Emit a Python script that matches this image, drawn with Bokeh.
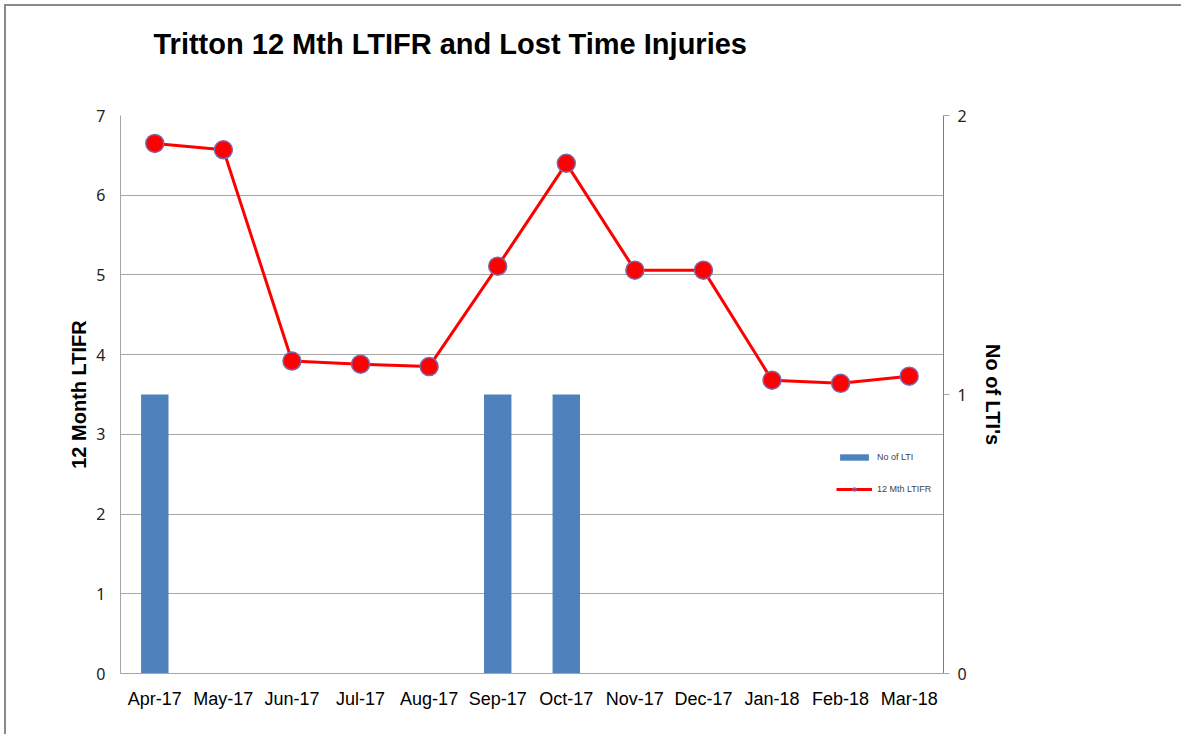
from bokeh.plotting import figure
from bokeh.models import (ColumnDataSource, LinearAxis, Range1d, Legend, LegendItem,
                          FixedTicker, Title)
from bokeh.embed import file_html
from bokeh.resources import INLINE

months = ["Apr-17", "May-17", "Jun-17", "Jul-17", "Aug-17", "Sep-17",
          "Oct-17", "Nov-17", "Dec-17", "Jan-18", "Feb-18", "Mar-18"]
ltifr = [6.65, 6.57, 3.92, 3.88, 3.85, 5.11, 6.40, 5.06, 5.06, 3.68, 3.64, 3.73]
no_of_lti = [1, 0, 0, 0, 0, 1, 1, 0, 0, 0, 0, 0]

FONT = "Liberation Sans"

src = ColumnDataSource(dict(m=months, ltifr=ltifr, lti=no_of_lti))

p = figure(x_range=months, y_range=Range1d(0, 7), frame_width=823, frame_height=558,
           output_backend="svg", toolbar_location=None,
           min_border_left=114, min_border_right=238, min_border_top=108,
           min_border_bottom=61)
p.outline_line_color = None
p.background_fill_color = "white"
p.border_fill_color = "white"
p.styles = {"border-left": "2px solid #8a8a8a", "border-top": "2px solid #8a8a8a",
            "margin-left": "4px", "margin-top": "4px"}

p.extra_y_ranges = {"lti": Range1d(0, 2)}

bars = p.vbar(x="m", top="lti", width=0.4, source=src, y_range_name="lti",
              fill_color="#4F81BD", line_color=None)
line = p.line(x="m", y="ltifr", source=src, line_color="#FF0000", line_width=3)
pts = p.scatter(x="m", y="ltifr", source=src, size=18, fill_color="#FF0000",
                line_color="#7B68B0", line_width=1.5)

# title (spacer panel first, next to the frame, then the real title)
spacer = Title(text=" ", text_font=FONT, text_font_size="10px", standoff=24)
p.add_layout(spacer, "above")
t = Title(text="Tritton 12 Mth LTIFR and Lost Time Injuries", text_font=FONT,
          text_font_size="29px", text_font_style="bold", text_color="#000000",
          align="left", offset=33, standoff=38)
p.add_layout(t, "above")
p.title.visible = False

# left axis
ya = p.yaxis[0]
ya.ticker = FixedTicker(ticks=[0, 1, 2, 3, 4, 5, 6, 7])
ya.axis_label = "12 Month LTIFR"
ya.axis_label_text_font = FONT
ya.axis_label_text_font_size = "20px"
ya.axis_label_text_font_style = "bold"
ya.axis_label_text_color = "#000000"
ya.axis_label_standoff = 3
ya.major_label_text_font = "Noto Sans"
ya.major_label_text_font_size = "16px"
ya.major_label_text_color = "#222222"
ya.major_tick_line_color = None
ya.minor_tick_line_color = None
ya.axis_line_color = "#A6A6A6"
ya.major_label_standoff = 9

# right axis
ra = LinearAxis(y_range_name="lti", ticker=FixedTicker(ticks=[0, 1, 2]))
ra.axis_label = "No of LTI's"
ra.axis_label_text_font = FONT
ra.axis_label_text_font_size = "20px"
ra.axis_label_text_font_style = "bold"
ra.axis_label_text_color = "#000000"
ra.axis_label_standoff = 12
ra.major_label_text_font = "Noto Sans"
ra.major_label_text_font_size = "16px"
ra.major_label_text_color = "#222222"
ra.major_tick_line_color = "#A6A6A6"
ra.major_tick_out = 6
ra.major_tick_in = 0
ra.minor_tick_line_color = None
ra.axis_line_color = "#7F7F7F"
ra.major_label_standoff = 8
p.add_layout(ra, "right")

# x axis
xa = p.xaxis[0]
xa.major_label_text_font = FONT
xa.major_label_text_font_size = "18px"
xa.major_label_text_color = "#000000"
xa.major_tick_line_color = None
xa.axis_line_color = "#A6A6A6"
xa.major_label_standoff = 9

p.xgrid.grid_line_color = None
p.ygrid.grid_line_color = "#A6A6A6"
p.ygrid.ticker = FixedTicker(ticks=[1, 2, 3, 4, 5, 6, 7])

legend = Legend(items=[LegendItem(label="No of LTI", renderers=[bars]),
                       LegendItem(label="12 Mth LTIFR", renderers=[line, pts])],
                location=(716, 179), orientation="vertical",
                label_text_font=FONT, label_text_font_size="9px",
                glyph_width=36, glyph_height=8, spacing=22, margin=0, padding=0,
                border_line_color=None, background_fill_alpha=0)
p.add_layout(legend, "center")

open("out.html", "w").write(file_html(p, INLINE))
